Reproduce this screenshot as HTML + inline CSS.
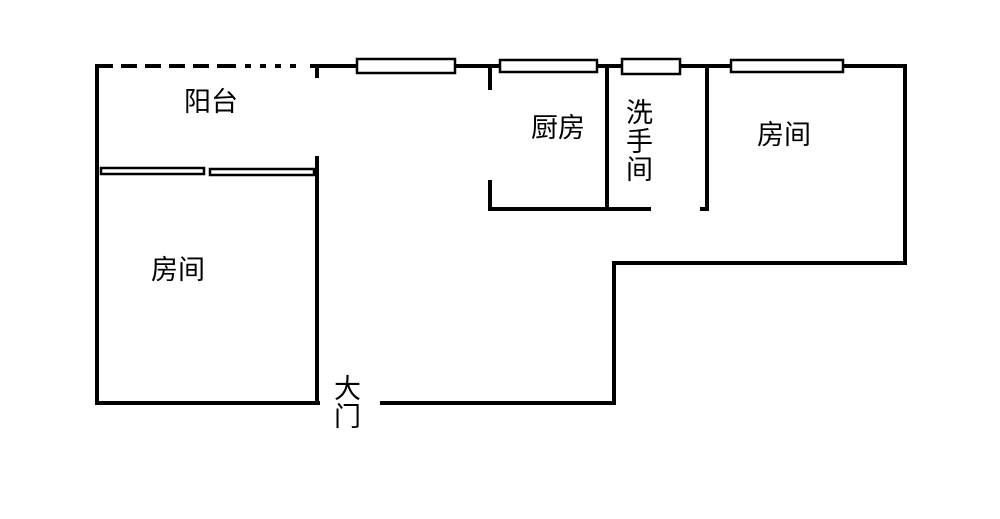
<!DOCTYPE html>
<html><head><meta charset="utf-8"><style>
html,body{margin:0;padding:0;background:#fff;}
svg{display:block}
text{font-family:"Liberation Sans","Noto Sans CJK SC",sans-serif;font-size:27px;fill:#000}
</style></head><body>
<svg width="1000" height="519" viewBox="0 0 1000 519" xmlns="http://www.w3.org/2000/svg">
<g stroke="#000" stroke-width="4" fill="none">
<line x1="97" y1="66" x2="230" y2="66" stroke-dasharray="16,8"/>
<line x1="230" y1="66" x2="300" y2="66" stroke-dasharray="6,9"/>
<line x1="310" y1="66" x2="905" y2="66"/>
<line x1="97" y1="64" x2="97" y2="405"/>
<line x1="317" y1="66" x2="317" y2="78"/>
<line x1="317" y1="156" x2="317" y2="405"/>
<line x1="95" y1="403" x2="320" y2="403"/>
<line x1="380" y1="403" x2="616" y2="403"/>
<line x1="614" y1="405" x2="614" y2="262"/>
<line x1="612" y1="263" x2="905" y2="263"/>
<line x1="905" y1="64" x2="905" y2="265"/>
<line x1="490" y1="66" x2="490" y2="90"/>
<line x1="490" y1="180" x2="490" y2="211"/>
<line x1="488" y1="209" x2="651" y2="209"/>
<line x1="607" y1="66" x2="607" y2="209"/>
<line x1="707" y1="66" x2="707" y2="211"/>
<line x1="700" y1="209" x2="709" y2="209"/>
</g>
<g stroke="#000" stroke-width="2.5" fill="#fff">
<rect x="357" y="59" width="98" height="14"/>
<rect x="500" y="60" width="97" height="12"/>
<rect x="622" y="59" width="58" height="15"/>
<rect x="731" y="60" width="112" height="12"/>
<rect x="101" y="168" width="103" height="6"/>
<rect x="210" y="169" width="104" height="6"/>
</g>
<text x="184" y="111">阳台</text>
<text x="531" y="137">厨房</text>
<text x="626" y="122">洗</text>
<text x="626" y="151">手</text>
<text x="626" y="179">间</text>
<text x="757" y="144">房间</text>
<text x="151" y="279">房间</text>
<text x="334" y="398">大</text>
<text x="334" y="426">门</text>
</svg>
</body></html>
